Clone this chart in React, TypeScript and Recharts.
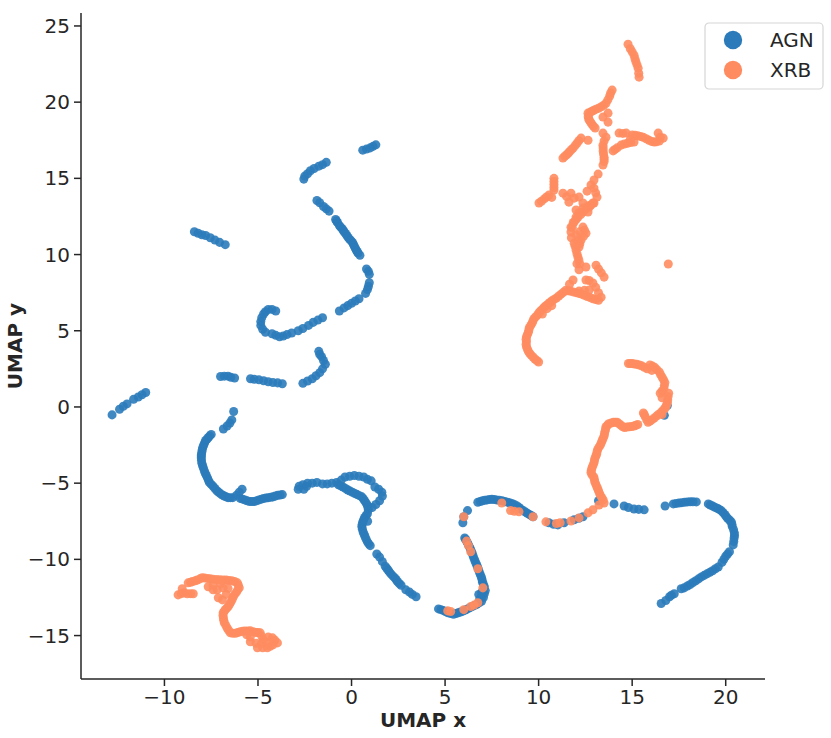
import { ScatterChart, Scatter, XAxis, YAxis, ZAxis, Legend, Label } from "recharts";

type Pt = [number, number];

const xTicks = [-10, -5, 0, 5, 10, 15, 20];
const yTicks = [-15, -10, -5, 0, 5, 10, 15, 20, 25];

// AGN
const agnTopArcs: Pt[] = [
    [0.6, 16.85], [0.8, 16.92], [1.0, 17.0], [1.15, 17.1], [1.3, 17.2],
    [-2.55, 14.95], [-2.5, 15.15], [-2.35, 15.3], [-2.2, 15.5], [-2.0, 15.65], [-1.75, 15.8], [-1.55, 15.9], [-1.35, 16.05],
    [-1.85, 13.55], [-1.7, 13.4], [-1.5, 13.15], [-1.35, 13.0], [-1.2, 12.85],
    [-0.85, 12.3], [-0.75, 12.1], [-0.65, 11.9], [-0.5, 11.7], [-0.4, 11.5], [-0.25, 11.25], [-0.1, 11.0], [0.05, 10.8], [0.15, 10.55], [0.25, 10.3], [0.35, 10.1], [0.45, 9.95],
    [-0.8, 12.2], [-0.58, 11.8], [-0.45, 11.6], [-0.32, 11.38], [-0.18, 11.12], [-0.02, 10.9], [0.1, 10.68], [0.2, 10.42], [0.3, 10.2],
    [0.8, 9.05], [0.9, 8.9], [0.95, 8.7],
    [0.95, 8.15], [0.9, 7.9], [0.85, 7.7], [0.75, 7.45],
    [0.4, 7.1], [0.2, 6.95], [0, 6.8], [-0.2, 6.65], [-0.4, 6.5], [-0.65, 6.3],
    [-1.55, 5.85], [-1.8, 5.7], [-2.05, 5.55], [-2.3, 5.35], [-2.6, 5.15], [-2.85, 5.0],
    [-3.2, 4.85], [-3.45, 4.75], [-3.65, 4.65], [-3.85, 4.6], [-4.05, 4.7], [-4.25, 4.8],
    [-4.05, 6.3], [-4.25, 6.4], [-4.45, 6.4], [-4.6, 6.25], [-4.7, 6.1], [-4.8, 5.85], [-4.85, 5.6], [-4.85, 5.35], [-4.75, 5.1], [-4.6, 4.9],
    [-8.4, 11.5], [-8.2, 11.4], [-8.0, 11.3], [-7.8, 11.25], [-7.55, 11.1], [-7.3, 10.95], [-7.05, 10.8], [-6.75, 10.65],
];

const agnMiddle: Pt[] = [
    [-7, 2.0], [-6.8, 2.02], [-6.6, 2.02], [-6.45, 1.95], [-6.25, 1.9],
    [-5.4, 1.85], [-5.2, 1.82], [-4.95, 1.78], [-4.7, 1.72], [-4.45, 1.65], [-4.2, 1.6], [-3.95, 1.58], [-3.7, 1.52],
    [-2.6, 1.55], [-2.35, 1.7], [-2.1, 1.85], [-1.9, 2.05], [-1.7, 2.25], [-1.55, 2.5], [-1.4, 2.8], [-1.5, 3.05], [-1.6, 3.3], [-1.7, 3.45], [-1.75, 3.65],
    [-11.0, 0.95], [-11.2, 0.8], [-11.4, 0.65], [-11.65, 0.5],
    [-12.0, 0.2], [-12.2, 0.05], [-12.4, -0.15],
    [-12.8, -0.52],
];

const agnLeftCurve: Pt[] = [
    [-6.3, -0.3], [-6.4, -0.85], [-6.5, -1.05], [-6.65, -1.25], [-6.85, -1.45],
    [-7.5, -1.8], [-7.65, -2.0], [-7.8, -2.2], [-7.9, -2.5], [-7.98, -2.8], [-8.02, -3.1], [-8.03, -3.35], [-8.0, -3.7], [-7.92, -4.0], [-7.82, -4.35],
    [-7.7, -4.65], [-7.6, -4.95], [-7.4, -5.2], [-7.2, -5.5], [-7.0, -5.7], [-6.8, -5.85], [-6.6, -5.95], [-6.35, -5.95],
    [-7.58, -1.9], [-7.72, -2.1], [-7.85, -2.35], [-7.95, -2.65], [-8, -2.95], [-8.03, -3.22], [-8.02, -3.52], [-7.96, -3.85], [-7.87, -4.18], [-7.76, -4.5],
    [-7.65, -4.8], [-7.5, -5.08], [-7.3, -5.35], [-7.1, -5.6], [-6.9, -5.78], [-6.7, -5.9], [-6.48, -5.95],
    [-5.85, -5.4], [-6, -5.6], [-6.15, -5.8],
    [-5.95, -6.0], [-5.7, -6.1], [-5.45, -6.2], [-5.2, -6.2], [-4.95, -6.1], [-4.7, -6.0], [-4.45, -5.95], [-4.2, -5.9], [-3.95, -5.8], [-3.7, -5.75],
    [-5.82, -6.05], [-5.58, -6.15], [-5.32, -6.2], [-5.08, -6.15], [-4.82, -6.05], [-4.58, -5.98], [-4.32, -5.92], [-4.08, -5.85], [-3.82, -5.78],
];

const agnCentre: Pt[] = [
    [-2.85, -5.4], [-2.8, -5.2], [-2.6, -5.1], [-2.55, -5.4], [-2.4, -5.2], [-2.35, -5.0], [-2.1, -5.0], [-1.85, -4.95], [-1.55, -5.05], [-1.3, -5.05],
    [-1.05, -5], [-0.8, -4.95], [-0.55, -4.8], [-0.35, -4.6], [-0.1, -4.55], [0.15, -4.5], [0.4, -4.55], [0.65, -4.6], [0.85, -4.75], [1.05, -4.85],
    [-0.7, -5.1], [-0.45, -5.25], [-0.2, -5.45], [0.05, -5.6], [0.3, -5.75], [0.55, -5.9], [0.7, -6.15], [0.85, -6.45], [0.9, -6.75], [0.85, -7.0],
    [0.7, -7.25], [0.6, -7.55], [0.55, -7.85], [0.62, -8.2], [0.72, -8.5], [0.85, -8.85], [1.0, -9.1],
    [-0.58, -5.18], [-0.32, -5.35], [-0.08, -5.52], [0.18, -5.68], [0.42, -5.82], [0.63, -6.02], [0.78, -6.3], [0.88, -6.6], [0.78, -7.12], [0.65, -7.4],
    [0.57, -7.7], [0.58, -8.02], [0.67, -8.35], [0.78, -8.68], [0.92, -8.98],
    [1.25, -5.25], [1.45, -5.4], [1.62, -5.6], [1.65, -5.85], [1.5, -6.15], [1.3, -6.4], [1.1, -6.6], [0.86, -7.5],
    [1.35, -9.65], [1.5, -9.85], [1.65, -10.15],
    [1.8, -10.45], [1.95, -10.7], [2.1, -10.95], [2.3, -11.2], [2.45, -11.45], [2.65, -11.7],
    [1.88, -10.58], [2.02, -10.82], [2.2, -11.08], [2.38, -11.32], [2.55, -11.58],
    [2.9, -12], [3.1, -12.15], [3.25, -12.3], [3.45, -12.45],
];

const agnBottomWave: Pt[] = [
    [4.65, -13.25], [4.9, -13.35], [5.15, -13.5], [5.45, -13.6], [5.7, -13.5], [5.95, -13.4], [6.2, -13.25], [6.45, -13.1], [6.7, -12.95], [6.95, -12.75],
    [4.78, -13.3], [5.02, -13.42], [5.3, -13.55], [5.58, -13.55], [5.82, -13.45], [6.08, -13.32], [6.32, -13.18], [6.58, -13.02], [6.82, -12.85],
    [7.05, -12.5], [6.85, -12.6], [6.8, -12.3], [7.1, -12.25], [7.15, -12.05], [7.0, -12.1], [7.1, -11.8], [7.0, -11.5], [6.95, -11.2], [6.85, -10.9],
    [6.95, -12.45], [6.95, -12.2], [7.05, -11.65], [6.98, -11.35], [6.9, -11.05], [6.8, -10.72], [6.7, -10.4], [6.6, -10.1], [6.5, -9.78], [6.4, -9.45], [6.3, -9.18], [6.2, -8.92], [6.1, -8.7],
    [6.75, -10.55], [6.65, -10.25], [6.55, -9.95], [6.45, -9.6], [6.35, -9.3], [6.25, -9.05], [6.15, -8.8], [6.05, -8.6],
    [5.95, -7.6], [6.0, -7.2], [6.2, -6.8],
    [6.75, -6.25], [7.0, -6.15], [7.25, -6.1], [7.5, -6.05], [7.75, -6.1], [8.05, -6.15], [8.35, -6.25], [8.6, -6.35], [8.85, -6.5], [9.05, -6.7], [9.3, -6.9], [9.5, -7.05], [9.7, -7.2],
    [6.88, -6.2], [7.12, -6.12], [7.38, -6.07], [7.62, -6.07], [7.9, -6.12], [8.2, -6.2], [8.48, -6.3], [8.72, -6.42], [8.95, -6.6], [9.18, -6.8], [9.4, -6.98], [9.6, -7.12],
    [10.55, -7.6], [10.8, -7.7], [11.03, -7.74], [11.36, -7.6],
    [11.9, -7.4], [12.15, -7.3], [12.37, -7.2],
    [13.2, -6.15],
];

const agnRightArc: Pt[] = [
    [14.03, -6.36], [14.57, -6.5], [14.8, -6.6], [15.1, -6.7], [15.35, -6.72], [15.64, -6.75],
    [16.76, -6.5], [17.2, -6.36], [17.5, -6.3], [17.8, -6.25], [18.1, -6.22], [18.43, -6.23],
    [17.35, -6.33], [17.65, -6.28], [17.95, -6.23], [18.25, -6.22],
    [19.07, -6.36], [19.3, -6.5], [19.55, -6.65], [19.76, -6.8], [19.95, -7.05], [20.1, -7.3], [20.3, -7.54], [20.35, -7.85], [20.46, -8.26], [20.45, -8.6], [20.4, -9.05],
    [19.18, -6.43], [19.42, -6.58], [19.65, -6.72], [19.85, -6.92], [20.02, -7.18], [20.2, -7.42], [20.33, -7.7], [20.42, -8.05], [20.47, -8.43], [20.43, -8.82],
    [20.2, -9.5], [20.1, -9.65], [20.0, -9.8], [19.9, -10.0], [19.8, -10.2], [19.6, -10.5], [19.45, -10.62], [19.3, -10.75], [19.15, -10.85], [19.0, -10.95], [18.85, -11.05], [18.7, -11.15],
    [18.55, -11.28], [18.4, -11.4], [18.25, -11.52], [18.1, -11.65], [17.95, -11.75], [17.78, -11.87],
    [17.62, -11.93], [17.25, -12.26], [17.1, -12.35], [17.0, -12.45], [16.8, -12.7], [16.55, -12.9],
    [16.88, 0.1], [16.72, -0.55],
];

// XRB
const xrbBottomLeft: Pt[] = [
    [-9.27, -12.33], [-9.05, -11.93], [-9.1, -12.25], [-8.95, -12.2], [-8.78, -12.26], [-8.6, -12.25], [-8.46, -12.26],
    [-8.73, -11.54], [-8.5, -11.45], [-8.25, -11.35], [-7.98, -11.21], [-7.7, -11.25], [-7.4, -11.3], [-7.2, -11.32], [-7.02, -11.34], [-6.85, -11.35], [-6.7, -11.35], [-6.55, -11.38], [-6.4, -11.4], [-6.25, -11.45], [-6.1, -11.54],
    [-8.6, -11.5], [-8.35, -11.4], [-8.1, -11.28], [-7.85, -11.23], [-7.55, -11.28],
    [-6, -11.87], [-6.15, -12.15], [-6.32, -12.46], [-6.45, -12.8], [-6.59, -13.1], [-6.75, -13.3], [-6.86, -13.5], [-6.85, -13.85], [-6.8, -14.16], [-6.65, -14.5], [-6.48, -14.82],
    [-6.05, -11.7], [-6.08, -12.0], [-6.25, -12.3], [-6.38, -12.63], [-6.52, -12.95], [-6.67, -13.2], [-6.8, -13.4], [-6.87, -13.68], [-6.83, -14.0], [-6.72, -14.33], [-6.57, -14.65],
    [-6.35, -14.85], [-6.08, -14.8], [-5.82, -14.72], [-5.55, -14.7], [-5.25, -14.75], [-5, -14.8],
    [-6.2, -14.85], [-5.95, -14.75], [-5.7, -14.7], [-5.41, -14.69], [-5.1, -14.8], [-4.88, -14.82], [-4.8, -15.05], [-4.71, -15.28], [-4.45, -15.1], [-4.23, -15.15], [-4.1, -15.3], [-3.96, -15.48],
    [-4.2, -15.6], [-4.35, -15.7], [-4.5, -15.8], [-4.75, -15.8], [-5.03, -15.8], [-5.1, -15.5], [-4.8, -15.5], [-4.5, -15.45], [-5.41, -15.1], [-5.41, -15.41], [-5.6, -14.95],
    [-7.66, -11.8], [-7.4, -11.7], [-7.18, -12], [-6.86, -11.87], [-7.12, -12.52], [-6.9, -12.66], [-6.7, -12.3], [-7.4, -12.0], [-7.0, -11.6], [-6.6, -11.9],
];

const xrbOnWave: Pt[] = [
    [5.14, -13.38], [5.3, -13.42], [6.0, -13.3], [6.37, -13.1], [6.55, -13.0], [6.75, -12.85], [7.02, -11.87], [6.75, -10.62], [6.37, -9.5], [6.25, -9.1], [6.15, -8.8], [6.0, -7.2],
    [8.03, -6.3], [8.5, -6.8], [8.7, -6.85], [8.95, -6.88], [9.7, -7.2], [10.39, -7.54], [10.95, -7.65], [11.15, -7.6], [11.73, -7.48], [12.16, -7.28],
    [12.64, -6.95], [12.9, -6.75], [13.23, -6.43], [13.5, -6.3],
];

const xrbLowerRight: Pt[] = [
    [13.45, -6.1], [13.3, -5.8], [13.2, -5.5], [13.1, -5.2], [13, -4.9], [12.95, -4.6], [12.8, -4.3], [12.85, -4.0], [12.95, -3.7], [13.0, -3.4], [13.1, -3.1], [13.15, -2.8],
    [13.3, -2.5], [13.4, -2.2], [13.5, -1.9], [13.55, -1.6], [13.6, -1.3], [13.75, -1.1], [14.0, -1.0], [14.2, -1.0], [14.4, -1.2], [14.6, -1.35], [14.85, -1.3], [15.1, -1.25], [15.3, -1.15],
    [13.38, -5.95], [13.25, -5.65], [13.15, -5.35], [13.05, -5.05], [12.98, -4.75], [12.85, -4.45], [12.82, -4.15], [12.9, -3.85], [12.98, -3.55], [13.05, -3.25], [13.12, -2.95], [13.22, -2.65],
    [13.35, -2.35], [13.45, -2.05], [13.52, -1.75], [13.58, -1.45], [13.68, -1.2], [13.88, -1.05], [14.1, -1.0], [14.3, -1.1], [14.5, -1.3], [14.72, -1.32], [14.98, -1.28], [15.2, -1.2],
    [15.6, -0.4], [15.7, -0.65], [15.85, -1.0], [16.05, -0.85], [16.3, -0.6], [16.55, -0.35], [16.75, -0.1], [16.85, 0.15], [16.9, 0.45], [16.95, 0.9], [16.6, 0.6],
    [15.65, -0.5], [15.78, -0.85], [15.95, -0.92], [16.18, -0.72], [16.42, -0.48], [16.65, -0.22], [16.8, 0.02], [16.88, 0.3], [16.92, 0.68], [16.6, 1.05], [16.72, 1.4], [16.68, 1.78], [16.52, 2.12], [16.32, 2.45], [16.08, 2.68],
    [16.5, 0.9], [16.7, 1.2], [16.75, 1.6], [16.6, 1.95], [16.45, 2.3], [16.2, 2.6], [15.95, 2.75], [16.05, 2.4], [15.8, 2.5], [15.5, 2.7], [15.25, 2.8], [15.0, 2.85], [14.8, 2.85],
    [15.65, 2.6], [15.38, 2.75], [15.12, 2.82], [14.9, 2.85], [16.6, -0.5],
];

const xrbMiddleArc: Pt[] = [
    [10.0, 2.95], [9.8, 3.15], [9.6, 3.4], [9.45, 3.65], [9.35, 3.95], [9.35, 4.3], [9.35, 4.6], [9.45, 4.9], [9.5, 5.2], [9.65, 5.5], [9.75, 5.8], [9.95, 6.05], [10.1, 6.3], [10.3, 6.55],
    [9.9, 3.05], [9.7, 3.28], [9.52, 3.52], [9.4, 3.8], [9.33, 4.12], [9.33, 4.45], [9.4, 4.75], [9.48, 5.05], [9.58, 5.35], [9.7, 5.65], [9.85, 5.92], [10.02, 6.18], [10.2, 6.42], [10.4, 6.65],
    [10.5, 6.75], [10.7, 6.95], [10.95, 7.15], [11.2, 7.4], [11.45, 7.65], [11.7, 7.6], [12.0, 7.5], [12.3, 7.4], [12.6, 7.25], [12.9, 7.1], [13.2, 7.0], [13.34, 7.2],
    [10.6, 6.85], [10.82, 7.05], [11.08, 7.28], [11.32, 7.52], [11.58, 7.62], [11.85, 7.55], [12.15, 7.45], [12.45, 7.32], [12.75, 7.18], [13.05, 7.05],
    [13.2, 7.5], [13.05, 7.85], [12.9, 8.13], [12.7, 8.3], [12.53, 8.33], [12.16, 7.6], [12.45, 7.65], [12.7, 7.67], [11.84, 8.33], [11.65, 8.05],
    [10.2, 6.1], [10.45, 6.45], [10.7, 6.65],
    [13.07, 9.3], [13.2, 9.05], [13.35, 8.8], [13.5, 8.52],
    [16.93, 9.38],
];

const xrbStem: Pt[] = [
    [12.16, 9], [12.05, 9.4], [12.1, 9.84], [12.0, 10.3], [11.9, 10.75], [11.75, 11.1], [11.73, 11.48], [11.8, 11.8], [11.9, 12.13], [12.1, 12.45], [12.37, 12.79], [12.7, 13.1], [12.96, 13.38],
    [12.37, 11.8], [12.45, 11.6], [12.53, 11.4], [12.4, 11.2], [12.27, 10.95], [12.2, 10.7], [12.16, 10.5], [12.0, 11.3], [12.53, 9.18], [12.2, 9.4], [12.2, 11.5], [12.1, 10.95],
    [12.25, 12.62], [12.5, 12.95], [12.0, 12.3], [12.8, 13.25], [12.05, 10.05], [12.15, 9.65], [11.95, 10.55],
];

const xrbUpper: Pt[] = [
    [14.78, 23.8], [14.9, 23.5], [15.1, 23.08], [15.2, 22.65], [15.32, 22.23], [15.35, 21.9], [15.37, 21.64],
    [15.0, 23.3], [15.15, 22.85], [15.26, 22.45],
    [13.93, 20.79], [13.8, 20.4], [13.7, 20.15], [13.6, 19.93], [13.35, 19.7], [13.07, 19.54], [12.85, 19.4], [12.64, 19.28], [12.65, 19.05], [12.7, 18.82], [12.85, 18.55], [13.02, 18.3],
    [13.85, 20.6], [13.48, 19.8], [13.2, 19.6], [12.95, 19.47], [12.75, 19.33], [12.68, 18.93], [12.78, 18.68], [12.93, 18.42],
    [13.71, 19.28], [13.44, 19.02], [13.71, 18.69],
    [14.3, 17.97], [14.5, 17.95], [14.68, 17.97], [15.0, 17.85], [15.3, 17.8], [15.59, 17.7], [15.9, 17.5], [16.18, 17.38], [16.45, 17.45], [16.66, 17.64], [16.39, 17.97], [16.5, 17.7],
    [15.15, 17.82], [15.45, 17.75], [15.75, 17.6], [16.05, 17.42], [16.3, 17.4],
    [13.98, 16.8], [14.2, 17.0], [14.41, 17.18], [14.75, 17.3], [15.1, 17.38], [14.9, 17.55], [14.08, 16.9], [14.58, 17.25], [14.92, 17.35],
    [13.44, 17.97], [13.6, 17.7], [13.5, 17.45], [13.44, 17.18], [13.45, 16.8], [13.5, 16.39], [13.5, 16.1], [13.44, 15.87], [13.47, 16.6], [13.5, 16.25], [13.45, 17.0],
    [11.3, 16.33], [11.5, 16.55], [11.65, 16.75], [11.84, 16.98], [12.05, 17.3], [12.27, 17.64], [12.64, 17.5],
    [11.4, 16.45], [11.58, 16.65], [11.75, 16.88], [11.95, 17.15], [12.15, 17.47],
    [13.18, 15.28], [12.96, 14.89], [12.8, 14.56], [12.59, 14.16], [12.96, 14.36], [13.05, 14.05], [13.12, 13.77], [12.9, 13.38], [12.65, 13.2], [12.37, 13.05], [12.15, 12.75], [12, 12.46], [11.85, 12.1], [11.73, 11.8],
    [10.82, 15.0], [10.82, 14.6], [10.82, 14.23], [10.55, 13.9], [10.3, 13.65], [10.02, 13.38], [10.7, 13.75], [10.42, 13.78], [10.15, 13.5], [10.82, 14.4], [10.82, 14.8],
    [11.3, 14.03], [11.5, 13.8], [11.73, 14.03], [11.62, 13.44], [11.9, 13.7], [12.16, 13.77], [12.37, 13.38], [12, 12.92], [12.64, 12.79],
];

const agnPoints = [...agnTopArcs, ...agnMiddle, ...agnLeftCurve, ...agnCentre, ...agnBottomWave, ...agnRightArc];
const xrbPoints = [...xrbBottomLeft, ...xrbLowerRight, ...xrbMiddleArc, ...xrbStem, ...xrbUpper, ...xrbOnWave];

const toRows = (pts: Pt[]) => pts.map((p) => ({ x: p[0], y: p[1] }));

const AGN_COLOR = "#2b7bba";
const XRB_COLOR = "#ff8c61";
const INK = "#262626";
const FONT = "'DejaVu Sans', sans-serif";

const fmt = (v: number) => String(v).replace("-", "\u2212");

function LegendBox({ payload }: any) {
    return (
        <svg width={120} height={68} style={{ display: "block" }}>
            <rect x={1} y={1} width={118} height={66} rx={4} fill="#fff" stroke="#d6d6d6" strokeWidth={1.2} />
            {(payload || []).map((item: any, i: number) => (
                <g key={item.value}>
                    <circle cx={29} cy={18 + i * 30} r={9.2} fill={item.color} />
                    <text x={66} y={25 + i * 30} fontSize={20} fontFamily={FONT} fill={INK}>
                        {item.value}
                    </text>
                </g>
            ))}
        </svg>
    );
}

export default function App() {
    const tick = { fontSize: 20, fontFamily: FONT, fill: INK };
    const axisLine = { stroke: INK, strokeWidth: 1.5 };
    const tickLine = { stroke: INK, strokeWidth: 1.5 };
    const labelStyle = { fontSize: 20, fontFamily: FONT, fontWeight: 700, fill: INK };

    return (
        <div style={{ position: "absolute", left: 0, top: 0 }}>
            <ScatterChart width={831} height={738} margin={{ top: 13, right: 66, bottom: 0, left: 0 }}>
                <XAxis
                    type="number"
                    dataKey="x"
                    domain={[-14.46, 22.1]}
                    ticks={xTicks}
                    tickFormatter={fmt}
                    height={59}
                    tick={tick}
                    tickSize={7}
                    tickMargin={4}
                    axisLine={axisLine}
                    tickLine={tickLine}
                    allowDataOverflow
                >
                    <Label value="UMAP x" position="insideBottom" offset={11} style={labelStyle} />
                </XAxis>
                <YAxis
                    type="number"
                    dataKey="y"
                    domain={[-17.85, 25.85]}
                    ticks={yTicks}
                    tickFormatter={fmt}
                    width={81}
                    tick={tick}
                    tickSize={7}
                    tickMargin={4}
                    axisLine={axisLine}
                    tickLine={tickLine}
                    allowDataOverflow
                >
                    <Label value="UMAP y" angle={-90} position="insideLeft" offset={15} style={{ ...labelStyle, textAnchor: "middle" }} />
                </YAxis>
                <ZAxis range={[54, 54]} />
                <Scatter name="AGN" data={toRows(agnPoints)} fill={AGN_COLOR} fillOpacity={0.9} isAnimationActive={false} />
                <Scatter name="XRB" data={toRows(xrbPoints)} fill={XRB_COLOR} fillOpacity={0.9} isAnimationActive={false} />
                <Legend
                    layout="vertical"
                    align="center"
                    verticalAlign="middle"
                    content={<LegendBox />}
                    wrapperStyle={{ position: "absolute", left: 704, top: 22, width: 120, height: 68 }}
                />
            </ScatterChart>
        </div>
    );
}
